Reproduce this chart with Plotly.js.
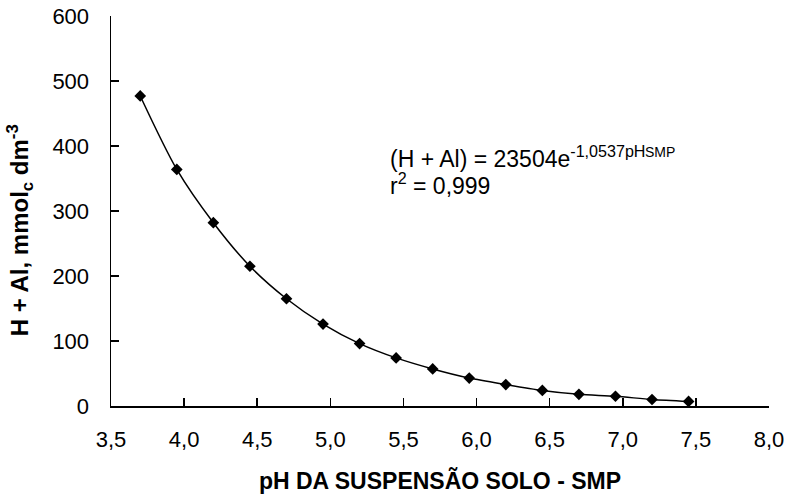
<!DOCTYPE html>
<html>
<head>
<meta charset="utf-8">
<script src="https://cdn.plot.ly/plotly-3.0.1.min.js"></script>
<style>html,body{margin:0;padding:0;background:#fff;}#chart{width:787px;height:495px;}</style>
</head>
<body>
<div id="chart"></div>
<script>
const phSMP = [3.70, 3.95, 4.20, 4.45, 4.70, 4.95, 5.20, 5.45, 5.70, 5.95, 6.20, 6.45, 6.70, 6.95, 7.20, 7.45];
const hAl = [477, 364, 282, 215, 165, 126, 96, 74, 57, 43, 33, 24, 18, 15, 10, 7];
const xTicks = [3.5, 4.0, 4.5, 5.0, 5.5, 6.0, 6.5, 7.0, 7.5, 8.0];
const yTicks = [0, 100, 200, 300, 400, 500, 600];

const font = "Liberation Sans, Arial, sans-serif";
const trace = {
  x: phSMP, y: hAl, type: 'scatter', mode: 'lines+markers',
  line: {color: '#000', width: 1.5, shape: 'spline', smoothing: 0.8},
  marker: {symbol: 'diamond', size: 9, color: '#000'},
  showlegend: false, hoverinfo: 'skip'
};
const layout = {
  width: 787, height: 495,
  margin: {l: 111, r: 18, t: 16, b: 89},
  paper_bgcolor: '#fff', plot_bgcolor: '#fff',
  separators: ', ',
  font: {family: font, color: '#000', size: 22},
  xaxis: {
    range: [3.5, 8.0], tickvals: xTicks, tickformat: '.1f',
    ticks: 'inside', ticklen: 8, tickwidth: 1.5, tickcolor: '#000',
    showline: true, linecolor: '#000', linewidth: 1.5, showgrid: false, zeroline: false,
    ticklabelstandoff: 13,
    tickfont: {size: 22},
    title: {text: 'pH DA SUSPENSÃO SOLO - SMP', font: {size: 23, weight: 'bold'}, standoff: 22}
  },
  yaxis: {
    range: [0, 600], tickvals: yTicks,
    ticks: 'inside', ticklen: 8, tickwidth: 1.5, tickcolor: '#000',
    showline: true, linecolor: '#000', linewidth: 1.5, showgrid: false, zeroline: false,
    ticklabelstandoff: 16,
    tickfont: {size: 22}
  },
  annotations: [
    {xref: 'paper', yref: 'paper', x: -0.138, y: 0.451, xanchor: 'center', yanchor: 'middle',
     textangle: -90, showarrow: false,
     text: '<b>H + Al, mmol<sub>c</sub> dm<sup>-3</sup></b>', font: {size: 24}},
    {xref: 'paper', yref: 'paper', x: 0.421, y: 0.638, xanchor: 'left', yanchor: 'middle', showarrow: false,
     text: '(H + Al) = 23504e<sup>-1,0537pH</sup>', font: {size: 23}},
    {xref: 'paper', yref: 'paper', x: 0.808, y: 0.651, xanchor: 'left', yanchor: 'middle', showarrow: false,
     text: 'SMP', font: {size: 14}},
    {xref: 'paper', yref: 'paper', x: 0.421, y: 0.570, xanchor: 'left', yanchor: 'middle', showarrow: false,
     text: 'r<sup>2</sup> = 0,999', font: {size: 23}}
  ]
};
Plotly.newPlot('chart', [trace], layout, {staticPlot: true, displayModeBar: false});
</script>
</body>
</html>
